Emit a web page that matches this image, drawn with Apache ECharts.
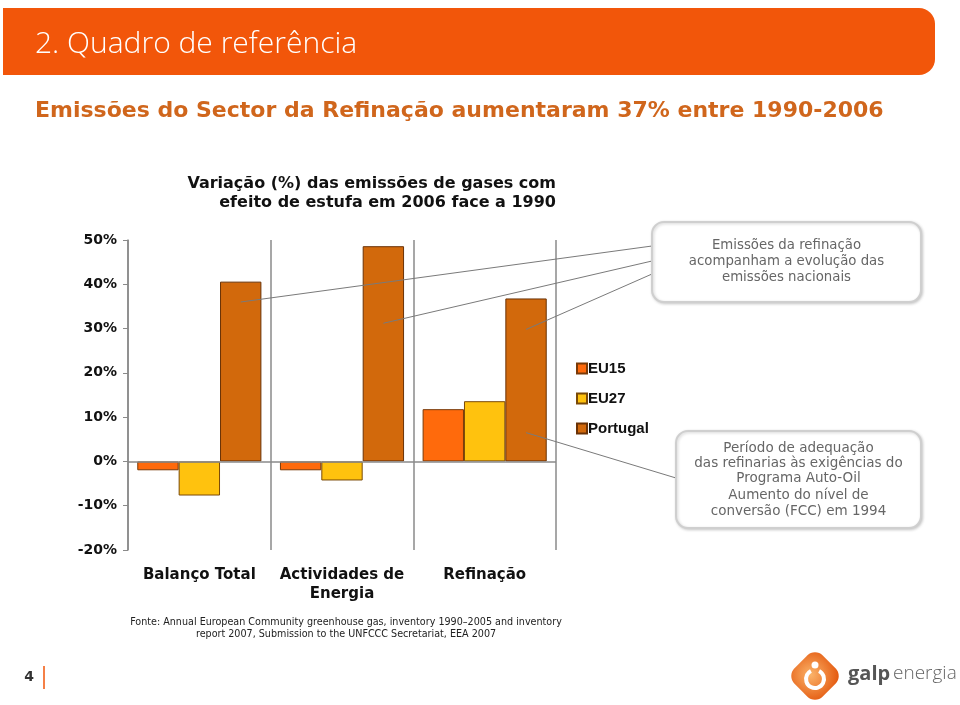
<!DOCTYPE html>
<html>
<head>
<meta charset="utf-8">
<script src="https://cdn.jsdelivr.net/npm/echarts@6/dist/echarts.min.js"></script>
<style>
  html, body { margin: 0; padding: 0; background: #fff; }
  #main { width: 960px; height: 705px; }
</style>
</head>
<body>
<div id="main"></div>
<script>
// dados (variação % 2006 vs 1990)
var categories = ['Balanço Total', 'Actividades de\nEnergia', 'Refinação'];
var seriesNames = ['EU15', 'EU27', 'Portugal'];
var eu15 = [-2.0, -2.0, 11.8];
var eu27 = [-7.7, -4.3, 13.6];
var portugal = [40.6, 48.6, 36.8];
var yMin = -20, yMax = 50, yStep = 10;

// pontos onde as linhas de chamada tocam as barras de Portugal [categoria, valor]
var leaderNational = [[0, 36], [1, 31.2], [2, 29.8]];
var leaderAutoOil = [2, 6.5];

var colors = ['#FF6A0C', '#FFC20E', '#D2690C'];
var FONT = '"DejaVu Sans", Verdana, sans-serif';
var NARROW = '"Liberation Sans", Arial, sans-serif';

var chart = echarts.init(document.getElementById('main'), null, { renderer: 'canvas' });

var option = {
    backgroundColor: '#fff',
    animation: false,
    grid: { left: 128, right: 404, top: 240, bottom: 155 },
    legend: {
        data: seriesNames,
        orient: 'vertical',
        left: 571,
        top: 356,
        icon: 'rect',
        itemWidth: 10,
        itemHeight: 10,
        itemGap: 15,
        textStyle: { color: '#111', fontSize: 15, fontWeight: 'bold', fontFamily: NARROW, padding: [0, 0, 0, -4] }
    },
    xAxis: {
        type: 'category',
        data: categories,
        axisLine: { show: false, onZero: false },
        axisTick: { show: false, interval: 0 },
        splitLine: { show: true, interval: 0, lineStyle: { color: '#8a8a8a', width: 1.5 } },
        axisLabel: {
            interval: 0,
            color: '#111',
            fontSize: 15,
            fontWeight: 'bold',
            fontFamily: FONT,
            margin: 16,
            lineHeight: 19
        }
    },
    yAxis: {
        type: 'value',
        min: yMin,
        max: yMax,
        interval: yStep,
        axisLine: { show: true, lineStyle: { color: '#8a8a8a', width: 1.5 } },
        axisTick: { show: true, length: 5, lineStyle: { color: '#8a8a8a' } },
        splitLine: { show: false },
        axisLabel: {
            formatter: '{value}%',
            color: '#111',
            fontSize: 14,
            fontWeight: 'bold',
            fontFamily: FONT,
            margin: 11
        }
    },
    series: [
        {
            name: 'EU15', type: 'bar', data: eu15,
            barGap: '0%', barCategoryGap: '13%',
            itemStyle: { color: colors[0], borderColor: '#7a3a08', borderWidth: 1 }
        },
        {
            name: 'EU27', type: 'bar', data: eu27,
            barGap: '0%', barCategoryGap: '13%',
            itemStyle: { color: colors[1], borderColor: '#7a4a08', borderWidth: 1 }
        },
        {
            name: 'Portugal', type: 'bar', data: portugal,
            barGap: '0%', barCategoryGap: '13%',
            itemStyle: { color: colors[2], borderColor: '#6a3206', borderWidth: 1 },
            markLine: {
                silent: true,
                symbol: 'none',
                label: { show: false },
                lineStyle: { color: '#8a8a8a', type: 'solid', width: 1.5 },
                data: [{ yAxis: 0 }]
            }
        }
    ]
};
chart.setOption(option);

// posição das barras de Portugal (terceira barra de cada grupo)
var c0 = chart.convertToPixel({ gridIndex: 0 }, [0, 0]);
var c1 = chart.convertToPixel({ gridIndex: 0 }, [1, 0]);
var band = c1[0] - c0[0];
var barOffset = band * 0.87 / 3;
function barPoint(p) {
    var px = chart.convertToPixel({ gridIndex: 0 }, p);
    return [px[0] + barOffset, px[1]];
}

var box1 = { x: 652, y: 222, w: 269, h: 80 };
var box2 = { x: 676, y: 431, w: 245, h: 97 };
var leaderY = [246, 261, 274];

var graphics = [];

// faixa do cabeçalho
graphics.push({
    type: 'rect', shape: { x: 3, y: 8, width: 932, height: 67, r: [0, 16, 16, 0] },
    style: { fill: '#F2560A' }, z: 10
});
graphics.push({
    type: 'text', x: 35, y: 44, z: 11,
    style: { text: '2. Quadro de referência', fill: '#fff', font: '300 30px "Open Sans", sans-serif', verticalAlign: 'middle' }
});
graphics.push({
    type: 'text', x: 35, y: 111, z: 11,
    style: { text: 'Emissões do Sector da Refinação aumentaram 37% entre 1990-2006', fill: '#D0661C', font: 'bold 22px ' + FONT, verticalAlign: 'middle' }
});

// título do gráfico
graphics.push({
    type: 'text', x: 556, y: 193, z: 11,
    style: {
        text: 'Variação (%) das emissões de gases com\nefeito de estufa em 2006 face a 1990',
        fill: '#111', font: 'bold 16px ' + FONT, align: 'right', verticalAlign: 'middle', lineHeight: 19
    }
});

// linhas de chamada
leaderNational.forEach(function (p, i) {
    var b = barPoint(p);
    graphics.push({
        type: 'line', z: 12, silent: true,
        shape: { x1: b[0], y1: b[1], x2: box1.x, y2: leaderY[i] },
        style: { stroke: '#7a7a7a', lineWidth: 1 }
    });
});
var b2 = barPoint(leaderAutoOil);
graphics.push({
    type: 'line', z: 12, silent: true,
    shape: { x1: b2[0], y1: b2[1], x2: box2.x, y2: 478 },
    style: { stroke: '#7a7a7a', lineWidth: 1 }
});

// caixas de texto
[box1, box2].forEach(function (b) {
    graphics.push({
        type: 'rect', z: 13,
        shape: { x: b.x, y: b.y, width: b.w, height: b.h, r: 12 },
        style: { fill: '#fff', stroke: '#cfcfcf', lineWidth: 2, shadowBlur: 3, shadowColor: 'rgba(0,0,0,0.18)', shadowOffsetX: 1, shadowOffsetY: 1 }
    });
});
graphics.push({
    type: 'text', x: box1.x + box1.w / 2, y: 262, z: 14,
    style: {
        text: 'Emissões da refinação\nacompanham a evolução das\nemissões nacionais',
        fill: '#666', font: '13.3px ' + FONT, align: 'center', verticalAlign: 'middle', lineHeight: 16
    }
});
graphics.push({
    type: 'text', x: box2.x + box2.w / 2, y: 463, z: 14,
    style: {
        text: 'Período de adequação\ndas refinarias às exigências do\nPrograma Auto-Oil',
        fill: '#666', font: '13.5px ' + FONT, align: 'center', verticalAlign: 'middle', lineHeight: 15
    }
});
graphics.push({
    type: 'text', x: box2.x + box2.w / 2, y: 503, z: 14,
    style: {
        text: 'Aumento do nível de\nconversão (FCC) em 1994',
        fill: '#666', font: '13.5px ' + FONT, align: 'center', verticalAlign: 'middle', lineHeight: 16
    }
});

// fonte
graphics.push({
    type: 'text', x: 346, y: 628, z: 11,
    style: {
        text: 'Fonte: Annual European Community greenhouse gas, inventory 1990–2005 and inventory\nreport 2007, Submission to the UNFCCC Secretariat, EEA 2007',
        fill: '#222', font: '9.6px ' + FONT, align: 'center', verticalAlign: 'middle', lineHeight: 12
    }
});

// número da página
graphics.push({
    type: 'text', x: 29, y: 677, z: 11,
    style: { text: '4', fill: '#333', font: 'bold 14px ' + FONT, align: 'center', verticalAlign: 'middle' }
});
graphics.push({
    type: 'line', z: 11, shape: { x1: 44, y1: 666, x2: 44, y2: 689 },
    style: { stroke: '#F2560A', lineWidth: 1.5 }
});

// logótipo galp energia
graphics.push({
    type: 'rect', z: 11, x: 815, y: 676, rotation: Math.PI / 4,
    shape: { x: -20, y: -20, width: 40, height: 40, r: 11 },
    style: {
        fill: new echarts.graphic.RadialGradient(0.45, 0.4, 0.7, [
            { offset: 0, color: '#FBB46A' },
            { offset: 1, color: '#E45A10' }
        ])
    }
});
graphics.push({
    type: 'arc', z: 12,
    shape: { cx: 815, cy: 679, r: 9, startAngle: -Math.PI * 0.35, endAngle: Math.PI * 1.35, clockwise: true },
    style: { stroke: '#fff', lineWidth: 4, fill: null }
});
graphics.push({
    type: 'circle', z: 12, shape: { cx: 815, cy: 665, r: 3.5 },
    style: { fill: '#fff' }
});
graphics.push({
    type: 'text', x: 848, y: 674, z: 11,
    style: { text: 'galp', fill: '#555', font: 'bold 20px "Open Sans", sans-serif', verticalAlign: 'middle' }
});
graphics.push({
    type: 'text', x: 893, y: 674, z: 11,
    style: { text: 'energia', fill: '#666', font: '300 19px "Open Sans", sans-serif', verticalAlign: 'middle' }
});

chart.setOption({ graphic: graphics });
</script>
</body>
</html>
